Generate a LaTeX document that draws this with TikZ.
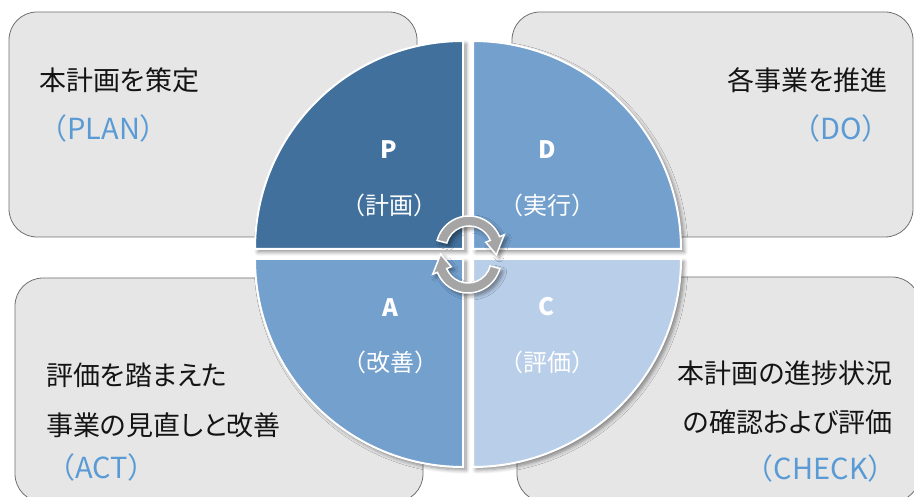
\documentclass[tikz,border=0pt]{standalone}
\usepackage{fontspec}
\setmainfont{Noto Sans CJK JP}
\usepackage{tikz}
\usetikzlibrary{
    calc,
    positioning,
    shadows.blur
}
\definecolor{ink}{RGB}{20,20,20}
\definecolor{boxfill}{RGB}{230,230,230}
\definecolor{boxline}{RGB}{112,112,112}
\definecolor{engblue}{RGB}{91,155,213}
\definecolor{plancol}{RGB}{65,112,156}
\definecolor{docol}{RGB}{116,160,206}
\definecolor{actcol}{RGB}{116,160,206}
\definecolor{checkcol}{RGB}{185,206,232}
\definecolor{cyclegray}{RGB}{165,165,165}
\tikzset{
    line join=round,
    pop/.style={
        blur shadow={shadow xshift=3pt, shadow yshift=-3pt,
            shadow blur radius=4pt, shadow blur steps=6, shadow opacity=45}
    },
    stagebox/.style={
        rectangle,
        draw=boxline,
        line width=0.8pt,
        fill=boxfill,
        rounded corners=28pt,
        inner sep=0pt
    },
    quadrant/.style={
        draw=white,
        line width=2pt,
        pop
    },
    stagetext/.style={
        font=\fontsize{27}{32}\selectfont\addfontfeatures{RawFeature=+palt},
        text=ink,
        inner sep=0pt
    },
    engtext/.style={
        font=\fontsize{29}{32}\selectfont,
        text=engblue,
        inner sep=0pt
    },
    quadletter/.style={
        font=\fontsize{24}{28}\selectfont\bfseries,
        text=white,
        inner sep=0pt
    },
    quadword/.style={
        font=\fontsize{24}{28}\selectfont,
        text=white,
        inner sep=0pt
    },
    cyclearrow/.style={
        fill=cyclegray,
        draw=white,
        line width=1.5pt,
        pop
    }
}

\begin{document}
\begin{tikzpicture}[x=1pt, y=1pt]

\path[use as bounding box, clip] (0,0) rectangle (914,497);

% Outer boxes
\node[stagebox, minimum width=408pt, minimum height=225pt] (planbox) at (213,372.5) {};
\node[stagebox, minimum width=401pt, minimum height=225pt] (dobox) at (712.5,372.5) {};
\node[stagebox, minimum width=408pt, minimum height=224pt] (actbox) at (219,107) {};
\node[stagebox, minimum width=403pt, minimum height=225pt] (checkbox) at (718.5,107.5) {};

% Box texts
\node[stagetext, anchor=west] (plantext) at (39,417) {本計画を策定};
\node[engtext, anchor=west] (planeng) at ([xshift=-1pt, yshift=-48pt]plantext.west) {（PLAN）};

\node[stagetext, anchor=east] (dotext) at (888,417) {各事業を推進};
\node[engtext, anchor=east] (doeng) at ([xshift=3pt, yshift=-48pt]dotext.east) {（DO）};

\node[stagetext, anchor=west] (acttext) at (46,122) {評価を踏まえた};
\node[stagetext, anchor=west] (acttext2) at ([yshift=-50pt]acttext.west) {事業の見直しと改善};
\node[engtext, anchor=west] (acteng) at ([yshift=-42pt]acttext2.west) {（ACT）};

\node[stagetext, anchor=east] (checktext) at (893,124) {本計画の進捗状況};
\node[stagetext, anchor=east] (checktext2) at ([yshift=-49pt]checktext.east) {の確認および評価};
\node[engtext, anchor=east] (checkeng) at ([xshift=4pt, yshift=-46pt]checktext2.east) {（CHECK）};

% Quadrants
\path[quadrant, fill=plancol] (463,248) -- ++(-208,0) arc[start angle=180, end angle=90, radius=208] -- cycle;
\path[quadrant, fill=docol] (473,248) -- ++(0,208) arc[start angle=90, end angle=0, radius=208] -- cycle;
\path[quadrant, fill=actcol] (463,238) -- ++(0,-208) arc[start angle=270, end angle=180, radius=208] -- cycle;
\path[quadrant, fill=checkcol] (473,238) -- ++(208,0) arc[start angle=0, end angle=-90, radius=208] -- cycle;

% Quadrant labels
\node[quadletter] (pletter) at (389,347) {P};
\node[quadword] (pword) at (389,292) {（計画）};
\node[quadletter] (dletter) at (547,347) {D};
\node[quadword] (dword) at (547,292) {（実行）};
\node[quadletter] (aletter) at (390,189) {A};
\node[quadword] (aword) at (390,135) {（改善）};
\node[quadletter] (cletter) at (547,190) {C};
\node[quadword] (cword) at (547,135) {（評価）};

% Cycle arrows
\foreach \cx/\cy/\rot in {469/248/0, 468/237/180} {
    \begin{scope}[shift={(\cx,\cy)}, rotate=\rot]
        \path[cyclearrow] (165:33) arc[start angle=165, end angle=22, radius=33]
            -- (22:38) -- (-12:28) -- (22:18) -- (22:23)
            arc[start angle=22, end angle=165, radius=23] -- cycle;
    \end{scope}
}

\end{tikzpicture}
\end{document}
